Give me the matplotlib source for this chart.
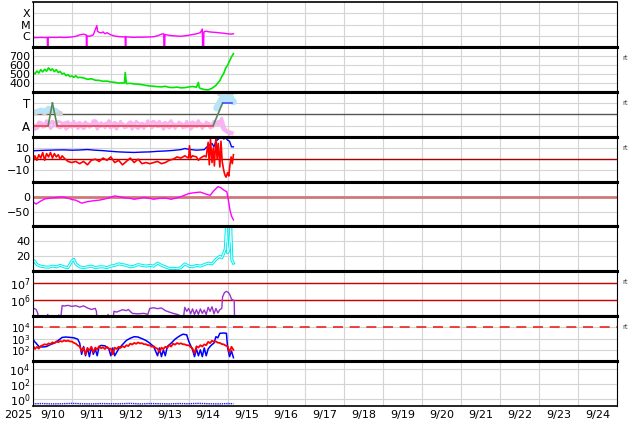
import numpy as np
import matplotlib
matplotlib.use("Agg")
import matplotlib.pyplot as plt
from matplotlib.ticker import NullLocator, FixedLocator, FixedFormatter

# ---------------- labels ----------------
day_labels = ['9/10', '9/11', '9/12', '9/13', '9/14', '9/15', '9/16', '9/17',
              '9/18', '9/19', '9/20', '9/21', '9/22', '9/23', '9/24']
year_label = '2025'
xray_ticks = [1e-6, 1e-5, 1e-4]
xray_ticklabels = ['C', 'M', 'X']
phi_ticks = [90, 270]
phi_ticklabels = ['A', 'T']

# ---------------- data (time in days since 2025-09-10 00:00) ----------------
xray_t = [0.0, 0.1, 0.2, 0.3, 0.37, 0.375, 0.385, 0.39, 0.5, 0.6, 0.7, 0.8, 0.9, 1.0,
          1.1, 1.2, 1.3, 1.37, 1.375, 1.385, 1.39, 1.45, 1.55, 1.64, 1.66, 1.7, 1.75,
          1.8, 1.85, 1.9, 2.0, 2.1, 2.2, 2.3, 2.37, 2.377, 2.387, 2.39, 2.5, 2.6, 2.7,
          2.8, 2.9, 3.0, 3.1, 3.2, 3.3, 3.36, 3.368, 3.378, 3.39, 3.5, 3.6, 3.7, 3.8,
          3.9, 4.0, 4.1, 4.2, 4.3, 4.35, 4.368, 4.378, 4.39, 4.45, 4.5, 4.6, 4.7,
          4.8, 4.9, 5.0, 5.1, 5.15]
xray_flux = [7.0e-7, 6.8e-7, 7.1e-7, 6.9e-7, 7.0e-7, 1e-9, 1e-9, 7.0e-7, 7.2e-7, 7.0e-7,
             7.4e-7, 7.0e-7, 7.3e-7, 7.8e-7, 9e-7, 1.2e-6, 1.4e-6, 1.2e-6, 1e-9, 1e-9,
             1.0e-6, 9e-7, 1.2e-6, 8e-6, 2.5e-6, 2.0e-6, 1.8e-6, 2.2e-6, 1.5e-6, 1.9e-6,
             1.2e-6, 9.5e-7, 8.5e-7, 8e-7, 8e-7, 1e-9, 1e-9, 8e-7, 7.5e-7, 7.2e-7, 7.6e-7,
             7.4e-7, 7.7e-7, 7.8e-7, 8.2e-7, 1.0e-6, 1.4e-6, 1.5e-6, 1e-9, 1e-9, 1.3e-6,
             1.1e-6, 1.0e-6, 9.5e-7, 9e-7, 1.0e-6, 1.1e-6, 1.3e-6, 1.5e-6, 1.9e-6, 4e-6,
             1e-9, 1e-9, 2.2e-6, 2.6e-6, 2.3e-6, 2.1e-6, 2.0e-6, 1.8e-6, 1.7e-6, 1.5e-6,
             1.4e-6, 1.5e-6]

speed_t = [0.0, 0.05, 0.1, 0.15, 0.2, 0.25, 0.3, 0.35, 0.4, 0.45, 0.5, 0.55, 0.6, 0.65,
           0.7, 0.75, 0.8, 0.85, 0.9, 0.95, 1.0, 1.05, 1.1, 1.15, 1.2, 1.3, 1.4, 1.5,
           1.6, 1.7, 1.8, 1.9, 2.0, 2.1, 2.2, 2.3, 2.35, 2.37, 2.4, 2.5, 2.6, 2.7, 2.8,
           2.9, 3.0, 3.1, 3.2, 3.3, 3.4, 3.5, 3.6, 3.7, 3.8, 3.9, 4.0, 4.1, 4.2, 4.25,
           4.27, 4.3, 4.4, 4.5, 4.6, 4.7, 4.8, 4.85, 4.9, 4.95, 5.0, 5.05, 5.1, 5.15]
speed_v = [515, 500, 532, 510, 548, 522, 552, 530, 568, 538, 556, 525, 548, 515, 528,
           498, 508, 480, 492, 470, 478, 462, 480, 458, 462, 455, 440, 446, 430, 428,
           418, 420, 410, 406, 398, 400, 400, 515, 392, 395, 388, 386, 380, 372, 366,
           362, 358, 356, 362, 350, 348, 353, 345, 347, 355, 360, 352, 405, 350, 338,
           326, 322, 340, 372, 425, 470, 505, 565, 595, 645, 690, 725]

phi_pink_t = [0.0, 0.1, 0.2, 0.3, 0.4, 0.5, 0.6, 0.7, 0.8, 0.9, 1.0, 1.1, 1.2, 1.3,
              1.4, 1.5, 1.6, 1.7, 1.8, 1.9, 2.0, 2.1, 2.2, 2.3, 2.4, 2.5, 2.6, 2.7,
              2.8, 2.9, 3.0, 3.1, 3.2, 3.3, 3.4, 3.5, 3.6, 3.7, 3.8, 3.9, 4.0, 4.1,
              4.2, 4.3, 4.4, 4.5, 4.6, 4.7, 4.8, 4.9, 5.0, 5.1]
phi_pink_v = [95, 70, 110, 85, 100, 120, 90, 75, 105, 115, 80, 95, 110, 70, 100, 90,
              125, 85, 95, 105, 75, 110, 90, 100, 80, 115, 95, 70, 105, 90, 100, 120,
              85, 95, 110, 75, 100, 90, 105, 80, 95, 115, 85, 100, 90, 105, 80, 110,
              120, 60, 40, 30]
phi_pink2_t = [0.05, 0.15, 0.25, 0.35, 0.45, 0.55, 0.65, 0.75, 0.85, 0.95, 1.05, 1.15,
               1.25, 1.35, 1.45, 1.55, 1.65, 1.75, 1.85, 1.95, 2.05, 2.15, 2.25, 2.35,
               2.45, 2.55, 2.65, 2.75, 2.85, 2.95, 3.05, 3.15, 3.25, 3.35, 3.45, 3.55,
               3.65, 3.75, 3.85, 3.95, 4.05, 4.15, 4.25, 4.35, 4.45, 4.55, 4.65, 4.75,
               4.85, 4.95, 5.05]
phi_pink2_v = [60, 120, 75, 130, 65, 95, 125, 110, 60, 85, 125, 65, 90, 120, 75, 130,
               60, 115, 70, 130, 95, 60, 125, 70, 110, 60, 125, 100, 65, 130, 70, 95,
               125, 60, 100, 130, 65, 120, 70, 125, 60, 90, 130, 65, 120, 70, 125, 95,
               150, 45, 20]
phi_blue1_t = [0.1, 0.2, 0.3, 0.4, 0.5, 0.6]
phi_blue1_v = [200, 215, 205, 230, 220, 210]
phi_grey1_t = [0.0, 0.1, 0.2, 0.3, 0.45, 0.6, 0.7]
phi_grey1_v = [190, 200, 205, 195, 215, 200, 185]
phi_blue2_t = [4.72, 4.78, 4.85, 4.92, 5.0, 5.08, 5.15]
phi_blue2_v = [230, 260, 300, 320, 290, 310, 280]
phi_grey2_t = [4.8, 4.9, 5.0, 5.1]
phi_grey2_v = [345, 355, 340, 350]
phi_step_t = [0.0, 0.39, 0.50, 0.62, 4.63, 4.87, 5.12]
phi_step_v = [90, 90, 270, 90, 90, 270, 270]

bt_t = [0.0, 0.2, 0.4, 0.6, 0.8, 1.0, 1.2, 1.4, 1.6, 1.8, 2.0, 2.2, 2.4, 2.6, 2.8, 3.0,
        3.2, 3.4, 3.6, 3.8, 3.9, 4.0, 4.2, 4.4, 4.5, 4.6, 4.65, 4.7, 4.8, 4.85, 4.9,
        4.95, 5.0, 5.05, 5.1, 5.15]
bt_v = [7.5, 7.8, 8.0, 8.2, 8.3, 8.0, 8.2, 8.6, 8.0, 7.6, 7.0, 6.5, 6.2, 6.0, 6.3, 6.5,
        7.0, 7.3, 7.8, 8.5, 9.5, 8.8, 8.0, 8.5, 12, 14, 11, 16, 19, 20, 18, 19, 17, 16,
        11, 11]
bz_t = [0.0, 0.05, 0.1, 0.15, 0.2, 0.25, 0.3, 0.35, 0.4, 0.45, 0.5, 0.55, 0.6, 0.65,
        0.7, 0.75, 0.8, 0.9, 1.0, 1.1, 1.2, 1.3, 1.4, 1.5, 1.6, 1.7, 1.8, 1.9, 2.0,
        2.1, 2.2, 2.3, 2.4, 2.5, 2.6, 2.7, 2.8, 2.9, 3.0, 3.1, 3.2, 3.3, 3.4, 3.5, 3.6,
        3.7, 3.8, 3.9, 4.0, 4.02, 4.05, 4.1, 4.2, 4.25, 4.3, 4.4, 4.45, 4.5, 4.53,
        4.56, 4.6, 4.63, 4.66, 4.7, 4.73, 4.76, 4.8, 4.83, 4.86, 4.9, 4.93, 4.96,
        5.0, 5.03, 5.06, 5.09, 5.12, 5.15]
bz_v = [-2, 3, -1, 4, 1, 6, -1, 5, 2, 6, 1, 5, 2, 4, 0, 3, 1, -2, -3, -2, -4, -2, -5,
        -1, 0, -2, 1, -1, 2, -3, -1, -5, -2, 1, -3, 0, -4, -3, -4, -3, -2, -4, -3, -1,
        0, 2, 1, 3, 1, 12, 1, 3, 2, -1, 1, 3, 2, 15, -5, 18, -3, 10, -6, 20, 0, 14, -7,
        16, -2, -10, -14, -16, -12, -15, -5, 2, -4, 4]

dst_t = [0.0, 0.08, 0.2, 0.3, 0.45, 0.6, 0.75, 0.9, 1.0, 1.1, 1.25, 1.4, 1.55, 1.7,
         1.85, 2.0, 2.1, 2.2, 2.35, 2.5, 2.6, 2.7, 2.85, 3.0, 3.1, 3.25, 3.4, 3.55,
         3.7, 3.85, 4.0, 4.15, 4.3, 4.45, 4.55, 4.65, 4.75, 4.82, 4.9, 4.98, 5.03,
         5.06, 5.1, 5.15]
dst_v = [-17, -25, -15, -8, -5, -3, -1, -5, -10, -12, -22, -17, -14, -12, -8, -2, 2, 0,
         -4, -6, -9, -7, -3, -6, -9, -6, -5, -9, -4, 2, 10, 13, 15, 8, 4, 20, 33, 30,
         22, 16, -20, -45, -65, -78]

dens_t = [0.0, 0.05, 0.1, 0.2, 0.3, 0.4, 0.5, 0.6, 0.7, 0.8, 0.9, 1.0, 1.05, 1.1, 1.2,
          1.3, 1.4, 1.5, 1.6, 1.7, 1.8, 1.9, 2.0, 2.1, 2.2, 2.3, 2.4, 2.5, 2.6, 2.7,
          2.8, 2.9, 3.0, 3.1, 3.2, 3.3, 3.4, 3.5, 3.6, 3.7, 3.8, 3.9, 4.0, 4.1, 4.2,
          4.3, 4.4, 4.5, 4.6, 4.7, 4.8, 4.85, 4.9, 4.94, 4.97, 5.0, 5.03, 5.06, 5.08,
          5.11, 5.15]
dens_v = [15, 13, 9, 7, 6, 5.5, 7, 6, 8, 6, 5, 14, 16, 10, 6, 5, 6, 7, 5, 6, 6, 5, 7,
          8, 10, 9, 8, 6, 7, 9, 8, 7, 8, 7, 11, 8, 6, 4, 4, 3.5, 5, 10, 7, 6, 8, 7, 9,
          11, 10, 16, 20, 18, 24, 30, 59, 25, 28, 40, 59, 15, 11]

flux7_t = [0.0, 0.08, 0.12, 0.16, 0.35, 0.38, 0.4, 0.62, 0.66, 0.7, 0.75, 0.8, 0.9,
           1.0, 1.1, 1.2, 1.3, 1.4, 1.5, 1.6, 1.63, 1.65, 1.9, 1.93, 1.96, 2.05, 2.08,
           2.15, 2.3, 2.4, 2.45, 2.55, 2.7, 2.85, 2.95, 3.0, 3.1, 3.2, 3.3, 3.4, 3.5,
           3.6, 3.7, 3.75, 3.8, 3.85, 3.9, 3.95, 4.0, 4.05, 4.1, 4.15, 4.2, 4.25, 4.3,
           4.35, 4.4, 4.45, 4.5, 4.55, 4.6, 4.65, 4.7, 4.75, 4.8, 4.85, 4.87, 4.92,
           4.97, 5.02, 5.06, 5.1, 5.17, 5.18]
flux7_v = [3.2e5, 2.6e5, 1.6e5, 4e4, 4e4, 1.3e5, 4e4, 4e4, 1.2e5, 4e4, 4.5e5, 4.2e5,
           4.6e5, 4.0e5, 4.4e5, 3.6e5, 4.3e5, 3.2e5, 2.6e5, 3.0e5, 2.0e5, 4e4, 4e4,
           1.3e5, 4e4, 4e4, 2.0e5, 1.8e5, 2.5e5, 2.2e5, 2.6e5, 1.5e5, 1.4e5, 1.5e5,
           1.3e5, 3.0e5, 3.3e5, 2.9e5, 3.2e5, 2.2e5, 1.8e5, 1.5e5, 1.3e5, 1.2e5, 4e4,
           4e4, 3.5e5, 2.0e5, 3.0e5, 1.4e5, 2.8e5, 1.3e5, 2.5e5, 1.3e5, 2.8e5, 1.5e5,
           2.4e5, 1.3e5, 3.5e5, 2.0e5, 3.8e5, 1.4e5, 3.0e5, 1.6e5, 2.5e5, 3.0e5,
           1.5e6, 2.8e6, 3.3e6, 2.8e6, 2.0e6, 1.1e6, 9e5, 4e4]

e_blue_t = [0.0, 0.03, 0.08, 0.15, 0.25, 0.35, 0.45, 0.55, 0.65, 0.75, 0.85, 0.95, 1.05,
            1.15, 1.2, 1.25, 1.3, 1.35, 1.4, 1.45, 1.5, 1.55, 1.6, 1.65, 1.7, 1.75, 1.85,
            1.95, 2.0, 2.05, 2.1, 2.2, 2.3, 2.4, 2.5, 2.6, 2.7, 2.8, 2.9, 3.0, 3.1, 3.2,
            3.25, 3.3, 3.35, 3.4, 3.45, 3.55, 3.65, 3.75, 3.85, 3.95, 4.0, 4.1, 4.15,
            4.2, 4.25, 4.3, 4.35, 4.4, 4.45, 4.5, 4.55, 4.6, 4.65, 4.7, 4.75, 4.8, 4.9,
            4.97, 5.0, 5.05, 5.1, 5.15]
e_blue_v = [1000, 600, 400, 200, 180, 200, 300, 400, 700, 1300, 1400, 1300, 1200, 900,
            400, 40, 200, 30, 150, 25, 180, 40, 120, 30, 200, 250, 230, 120, 30, 150, 30,
            120, 300, 700, 1100, 1500, 1400, 1000, 700, 400, 200, 30, 150, 25, 100, 30,
            200, 400, 900, 1600, 2500, 2200, 600, 100, 25, 120, 30, 100, 25, 150, 30,
            120, 200, 300, 400, 1500, 1200, 3000, 3200, 3000, 150, 25, 80, 20]
e_red_t = [0.0, 0.05, 0.1, 0.15, 0.2, 0.25, 0.3, 0.35, 0.4, 0.45, 0.5, 0.55, 0.6, 0.65,
           0.7, 0.75, 0.8, 0.85, 0.9, 0.95, 1.0, 1.05, 1.1, 1.15, 1.2, 1.25, 1.3, 1.35,
           1.4, 1.45, 1.5, 1.55, 1.6, 1.65, 1.7, 1.75, 1.8, 1.85, 1.9, 1.95, 2.0, 2.05,
           2.1, 2.15, 2.2, 2.25, 2.3, 2.35, 2.4, 2.45, 2.5, 2.55, 2.6, 2.65, 2.7, 2.75,
           2.8, 2.85, 2.9, 2.95, 3.0, 3.05, 3.1, 3.15, 3.2, 3.25, 3.3, 3.35, 3.4, 3.45,
           3.5, 3.55, 3.6, 3.65, 3.7, 3.75, 3.8, 3.85, 3.9, 3.95, 4.0, 4.05, 4.1, 4.15,
           4.2, 4.25, 4.3, 4.35, 4.4, 4.45, 4.5, 4.55, 4.6, 4.65, 4.7, 4.75, 4.8, 4.85,
           4.9, 4.95, 5.0, 5.05, 5.1, 5.15]
e_red_v = [250, 120, 180, 130, 220, 260, 320, 280, 380, 330, 470, 400, 560, 480, 620,
           540, 700, 600, 680, 560, 560, 420, 360, 250, 200, 80, 160, 40, 140, 90, 190,
           60, 160, 110, 210, 140, 170, 120, 190, 130, 130, 40, 160, 120, 190, 150, 220,
           170, 260, 220, 360, 300, 420, 350, 460, 380, 400, 320, 320, 260, 260, 190,
           210, 150, 130, 60, 160, 120, 190, 150, 260, 200, 360, 290, 410, 340, 390,
           320, 310, 260, 260, 180, 130, 50, 210, 160, 260, 200, 310, 260, 520, 400,
           660, 520, 560, 440, 420, 330, 310, 240, 210, 60, 190, 100]

p_t = [0.0, 0.25, 0.5, 0.75, 1.0, 1.25, 1.5, 1.75, 2.0, 2.25, 2.5, 2.75, 3.0, 3.25,
       3.5, 3.75, 4.0, 4.25, 4.5, 4.75, 5.0, 5.15]
p_v = [0.20, 0.21, 0.19, 0.20, 0.22, 0.20, 0.19, 0.21, 0.20, 0.20, 0.22, 0.19, 0.21,
       0.20, 0.19, 0.21, 0.20, 0.22, 0.20, 0.19, 0.21, 0.20]

# ---------------- figure ----------------
fig = plt.figure(figsize=(6.34, 4.24), dpi=100)
axes = fig.subplots(9, 1, sharex=True, gridspec_kw=dict(hspace=0))
fig.subplots_adjust(left=0.052, right=0.973, top=0.995, bottom=0.0425)

GRID = '#d4d4d4'
for i, ax in enumerate(axes):
    ax.set_xlim(0, 15)
    ax.xaxis.set_major_locator(FixedLocator(np.arange(0, 16)))
    ax.xaxis.set_minor_locator(FixedLocator(np.arange(15) + 0.5))
    ax.tick_params(axis='both', which='both', length=0, labelsize=8, pad=2)
    ax.tick_params(axis='x', which='major', labelbottom=False)
    ax.grid(True, axis='x', which='major', color=GRID, lw=0.8)
    ax.grid(True, axis='y', which='major', color=GRID, lw=0.8)
    ax.set_axisbelow(True)
    for s in ['top', 'bottom']:
        ax.spines[s].set_linewidth(2.2)
    for s in ['left', 'right']:
        ax.spines[s].set_linewidth(0.8)
axes[0].spines['top'].set_linewidth(1.2)
axes[-1].spines['bottom'].set_linewidth(1.2)

# 1 X-ray
ax = axes[0]
ax.set_yscale('log')
ax.set_ylim(1e-7, 1e-3)
ax.plot(xray_t, xray_flux, color='#ff00ff', lw=1.0)
ax.yaxis.set_major_locator(FixedLocator(xray_ticks))
ax.yaxis.set_major_formatter(FixedFormatter(xray_ticklabels))
ax.yaxis.set_minor_locator(NullLocator())
ax.tick_params(axis='y', labelsize=8)

# 2 speed
ax = axes[1]
ax.set_ylim(300, 800)
ax.plot(speed_t, speed_v, color='#00e600', lw=1.2)
ax.set_yticks([400, 500, 600, 700])

# 3 phi
ax = axes[2]
ax.set_ylim(0, 360)
ax.set_yticks(phi_ticks)
ax.set_yticklabels(phi_ticklabels)
ax.tick_params(axis='y', labelsize=8.5)
ax.axhline(180, color='#555555', lw=1.0, zorder=1)
ax.plot(phi_grey1_t, phi_grey1_v, color='#d0d0d0', lw=4, solid_capstyle='round')
ax.plot(phi_blue1_t, phi_blue1_v, color='#b8e4fa', lw=3.5, solid_capstyle='round')
ax.plot(phi_grey2_t, phi_grey2_v, color='#d0d0d0', lw=4, solid_capstyle='round')
ax.plot(phi_blue2_t, phi_blue2_v, color='#b8e4fa', lw=5, solid_capstyle='round')
ax.plot(phi_pink2_t, phi_pink2_v, color='#f8b4f0', lw=2.0)
ax.plot(phi_pink_t, phi_pink_v, color='#f8b4f0', lw=3.0)
for k in range(len(phi_step_t) - 1):
    a, b = phi_step_v[k], phi_step_v[k + 1]
    if a == b == 90:
        c = '#ee4444'
    elif a == b == 270:
        c = '#4a4aff'
    else:
        c = '#558855'
    ax.plot(phi_step_t[k:k + 2], phi_step_v[k:k + 2], color=c, lw=1.2)

# 4 Bt / Bz
ax = axes[3]
ax.set_ylim(-20, 20)
ax.set_yticks([-10, 0, 10])
ax.set_yticklabels(['\u221210', '0', '10'])
ax.axhline(0, color='#aa0000', lw=1.0, zorder=1)
ax.plot(bt_t, bt_v, color='#0000ff', lw=1.0)
ax.plot(bz_t, bz_v, color='#ff0000', lw=1.2)

# 5 Dst
ax = axes[4]
ax.set_ylim(-100, 50)
ax.set_yticks([-50, 0])
ax.set_yticklabels(['\u221250', '0'])
ax.axhline(0, color='#d07878', lw=2.0, zorder=1)
ax.plot(dst_t, dst_v, color='#ff00ff', lw=1.0)

# 6 density
ax = axes[5]
ax.set_ylim(0, 60)
ax.set_yticks([20, 40])
ax.plot(dens_t, dens_v, color='#00f0f0', lw=2.2)
ax.plot(dens_t, dens_v, color='white', lw=0.7)

# 7 flux
ax = axes[6]
ax.set_yscale('log')
ax.set_ylim(1e5, 5.5e7)
ax.yaxis.set_major_locator(FixedLocator([1e6, 1e7]))
ax.yaxis.set_minor_locator(NullLocator())
ax.axhline(1e6, color='#cc0000', lw=1.0, zorder=1)
ax.axhline(1e7, color='#cc0000', lw=1.0, zorder=1)
ax.plot(flux7_t, flux7_v, color='#9933cc', lw=1.0)

# 8 electrons
ax = axes[7]
ax.set_yscale('log')
ax.set_ylim(10, 1e5)
ax.yaxis.set_major_locator(FixedLocator([1e2, 1e3, 1e4]))
ax.yaxis.set_minor_locator(NullLocator())
ax.tick_params(axis='y', labelsize=7.5, pad=2)
ax.axhline(1e4, color='#ee2222', lw=1.2, ls=(0, (6, 4)), zorder=1)
ax.plot(e_blue_t, e_blue_v, color='#0000ff', lw=1.1)
ax.plot(e_red_t, e_red_v, color='#ff0000', lw=1.3)

# 9 protons
ax = axes[8]
ax.set_yscale('log')
ax.set_ylim(1e-1, 1e5)
ax.yaxis.set_major_locator(FixedLocator([1e0, 1e2, 1e4]))
ax.yaxis.set_minor_locator(NullLocator())
ax.plot(p_t, p_v, color='#2222ff', lw=1.0, ls=(0, (1, 0.6)))
ax.xaxis.set_minor_formatter(FixedFormatter(day_labels))
ax.tick_params(axis='x', which='minor', labelbottom=True, labelsize=8, pad=3)

fig.text(18 / 634, 1 - 415 / 424, year_label, fontsize=8, ha='center', va='center')

# "rt" markers at right side
for idx in [1, 2, 3, 6, 7]:
    pos = axes[idx].get_position()
    fig.text(0.981, pos.y1 - 11 / 424, 'rt', fontsize=5, color='#444444',
             ha='left', va='center')

fig.savefig('out.png', dpi=100)
